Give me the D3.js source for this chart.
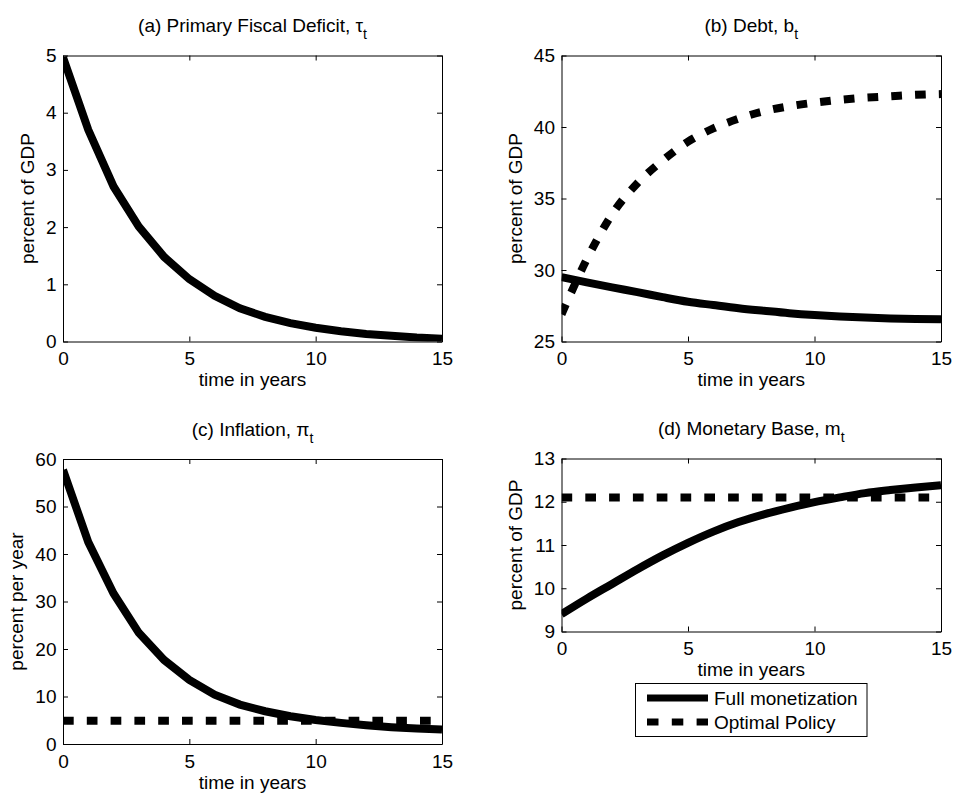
<!DOCTYPE html>
<html><head><meta charset="utf-8">
<script src="https://cdn.jsdelivr.net/npm/d3@7"></script>
<style>
body{margin:0;background:#fff}
svg{display:block}
text{font-family:"Liberation Sans",Arial,Helvetica,sans-serif;fill:#000}
</style>
</head><body>
<svg id="chart" width="955" height="798"></svg>
<script>
// ---- data ----
const years = [0,1,2,3,4,5,6,7,8,9,10,11,12,13,14,15];
const deficitFull = [4.97,3.70,2.71,2.01,1.48,1.09,0.80,0.58,0.43,0.32,0.24,0.18,0.13,0.10,0.07,0.05];
const debtFull = [29.5,29.13,28.78,28.45,28.1,27.78,27.55,27.33,27.15,26.98,26.85,26.75,26.67,26.61,26.57,26.55];
const debtOptimal = [26.9,30.75,33.9,36.07,37.66,38.97,39.9,40.58,41.1,41.45,41.7,41.9,42.05,42.15,42.25,42.3];
const inflationFull = [57.7,42.5,31.7,23.4,17.7,13.5,10.4,8.3,6.9,5.85,5.05,4.45,3.95,3.55,3.25,3.05];
const inflationOptimal = [4.9,4.9,4.9,4.9,4.9,4.9,4.9,4.9,4.9,4.9,4.9,4.9,4.9,4.9,4.9,4.9];
const baseFull = [9.4,9.76,10.1,10.44,10.76,11.05,11.31,11.53,11.71,11.86,11.99,12.1,12.2,12.27,12.33,12.38];
const baseOptimal = [12.1,12.1,12.1,12.1,12.1,12.1,12.1,12.1,12.1,12.1,12.1,12.1,12.1,12.1,12.1,12.1];
const xTicks = [0,5,10,15];
const deficitTicks = [0,1,2,3,4,5];
const debtTicks = [25,30,35,40,45];
const inflationTicks = [0,10,20,30,40,50,60];
const baseTicks = [9,10,11,12,13];
const seriesNames = ["Full monetization","Optimal Policy"];
const xLabel = "time in years";

// ---- layout ----
const svg = d3.select("#chart");
const DASH = "10.7,13.1";
const LW = 8;

const panels = [
  {id:"a", title:"(a) Primary Fiscal Deficit, ", sym:"τ", ylabel:"percent of GDP",
   box:[63,442,55.5,341.5], ydom:[0,5], yticks:deficitTicks, curve:d3.curveLinear,
   series:[{v:deficitFull,dash:null}]},
  {id:"b", title:"(b) Debt, ", sym:"b", ylabel:"percent of GDP",
   box:[561.5,941,55.5,341.5], ydom:[25,45], yticks:debtTicks, curve:d3.curveMonotoneX,
   series:[{v:debtFull,dash:null},{v:debtOptimal,dash:DASH}]},
  {id:"c", title:"(c) Inflation, ", sym:"π", ylabel:"percent per year",
   box:[63,442,459,744], ydom:[0,60], yticks:inflationTicks, curve:d3.curveLinear,
   series:[{v:inflationFull,dash:null},{v:inflationOptimal,dash:DASH}]},
  {id:"d", title:"(d) Monetary Base, ", sym:"m", ylabel:"percent of GDP",
   box:[561.5,941,458.5,631.5], ydom:[9,13], yticks:baseTicks, curve:d3.curveMonotoneX,
   series:[{v:baseFull,dash:null},{v:baseOptimal,dash:DASH}]}
];

panels.forEach(p => {
  const [x0,x1,y0,y1] = p.box;
  const x = d3.scaleLinear().domain([0,15]).range([x0,x1]);
  const y = d3.scaleLinear().domain(p.ydom).range([y1,y0]);
  const g = svg.append("g");

  g.append("clipPath").attr("id","clip"+p.id)
    .append("rect").attr("x",x0).attr("y",y0).attr("width",x1-x0).attr("height",y1-y0);

  const line = d3.line().x((d,i)=>x(years[i])).y(d=>y(d)).curve(p.curve);
  const lg = g.append("g").attr("clip-path","url(#clip"+p.id+")");
  p.series.slice().reverse().forEach(s => {
    lg.append("path").datum(s.v).attr("d",line)
      .attr("fill","none").attr("stroke","#000").attr("stroke-width",LW)
      .attr("stroke-dasharray",s.dash).attr("stroke-linecap","butt").attr("stroke-linejoin","miter");
  });

  const fs = "19px";
  const bottom = g.append("g").attr("transform",`translate(0,${y1})`)
    .call(d3.axisBottom(x).tickValues(xTicks).tickSize(-5).tickSizeOuter(0).tickPadding(10.5).tickFormat(d3.format("d")));
  const top = g.append("g").attr("transform",`translate(0,${y0})`)
    .call(d3.axisTop(x).tickValues(xTicks).tickSize(-5).tickSizeOuter(0).tickFormat(""));
  const left = g.append("g").attr("transform",`translate(${x0},0)`)
    .call(d3.axisLeft(y).tickValues(p.yticks).tickSize(-5).tickSizeOuter(0).tickPadding(6.5).tickFormat(d3.format("d")));
  const right = g.append("g").attr("transform",`translate(${x1},0)`)
    .call(d3.axisRight(y).tickValues(p.yticks).tickSize(-5).tickSizeOuter(0).tickFormat(""));
  [bottom,top,left,right].forEach(a => {
    a.selectAll("path,line").attr("stroke","#000").attr("stroke-width",1);
    a.selectAll("text").attr("font-size",fs).attr("font-family",null).attr("fill","#000");
  });

  let maxW = 0;
  left.selectAll("text").each(function(){ maxW = Math.max(maxW, this.getBBox().width); });
  const lx = x0 - 6.5 - maxW - 12;
  g.append("text").attr("transform",`translate(${lx},${(y0+y1)/2}) rotate(-90)`)
    .attr("text-anchor","middle").attr("font-size",fs).text(p.ylabel);

  g.append("text").attr("x",(x0+x1)/2).attr("y",y1+44.5)
    .attr("text-anchor","middle").attr("font-size",fs).text(xLabel);

  const t = g.append("text").attr("x",(x0+x1)/2).attr("y",y0-23.5)
    .attr("text-anchor","middle").attr("font-size",fs);
  t.append("tspan").text(p.title + p.sym);
  t.append("tspan").attr("font-size","14px").attr("dy",7).text("t");
});

// ---- legend ----
const leg = svg.append("g");
leg.append("rect").attr("x",635.5).attr("y",683.5).attr("width",231.5).attr("height",53)
  .attr("fill","#fff").attr("stroke","#000").attr("stroke-width",1);
const legY = [698,722];
const legDash = [null,"11.5,13.3"];
seriesNames.forEach((name,i) => {
  leg.append("line").attr("x1",647).attr("x2",708).attr("y1",legY[i]).attr("y2",legY[i])
    .attr("stroke","#000").attr("stroke-width",7).attr("stroke-dasharray",legDash[i]);
  leg.append("text").attr("x",714).attr("y",legY[i]).attr("dy","0.36em")
    .attr("font-size","19px").text(name);
});
</script>
</body></html>
